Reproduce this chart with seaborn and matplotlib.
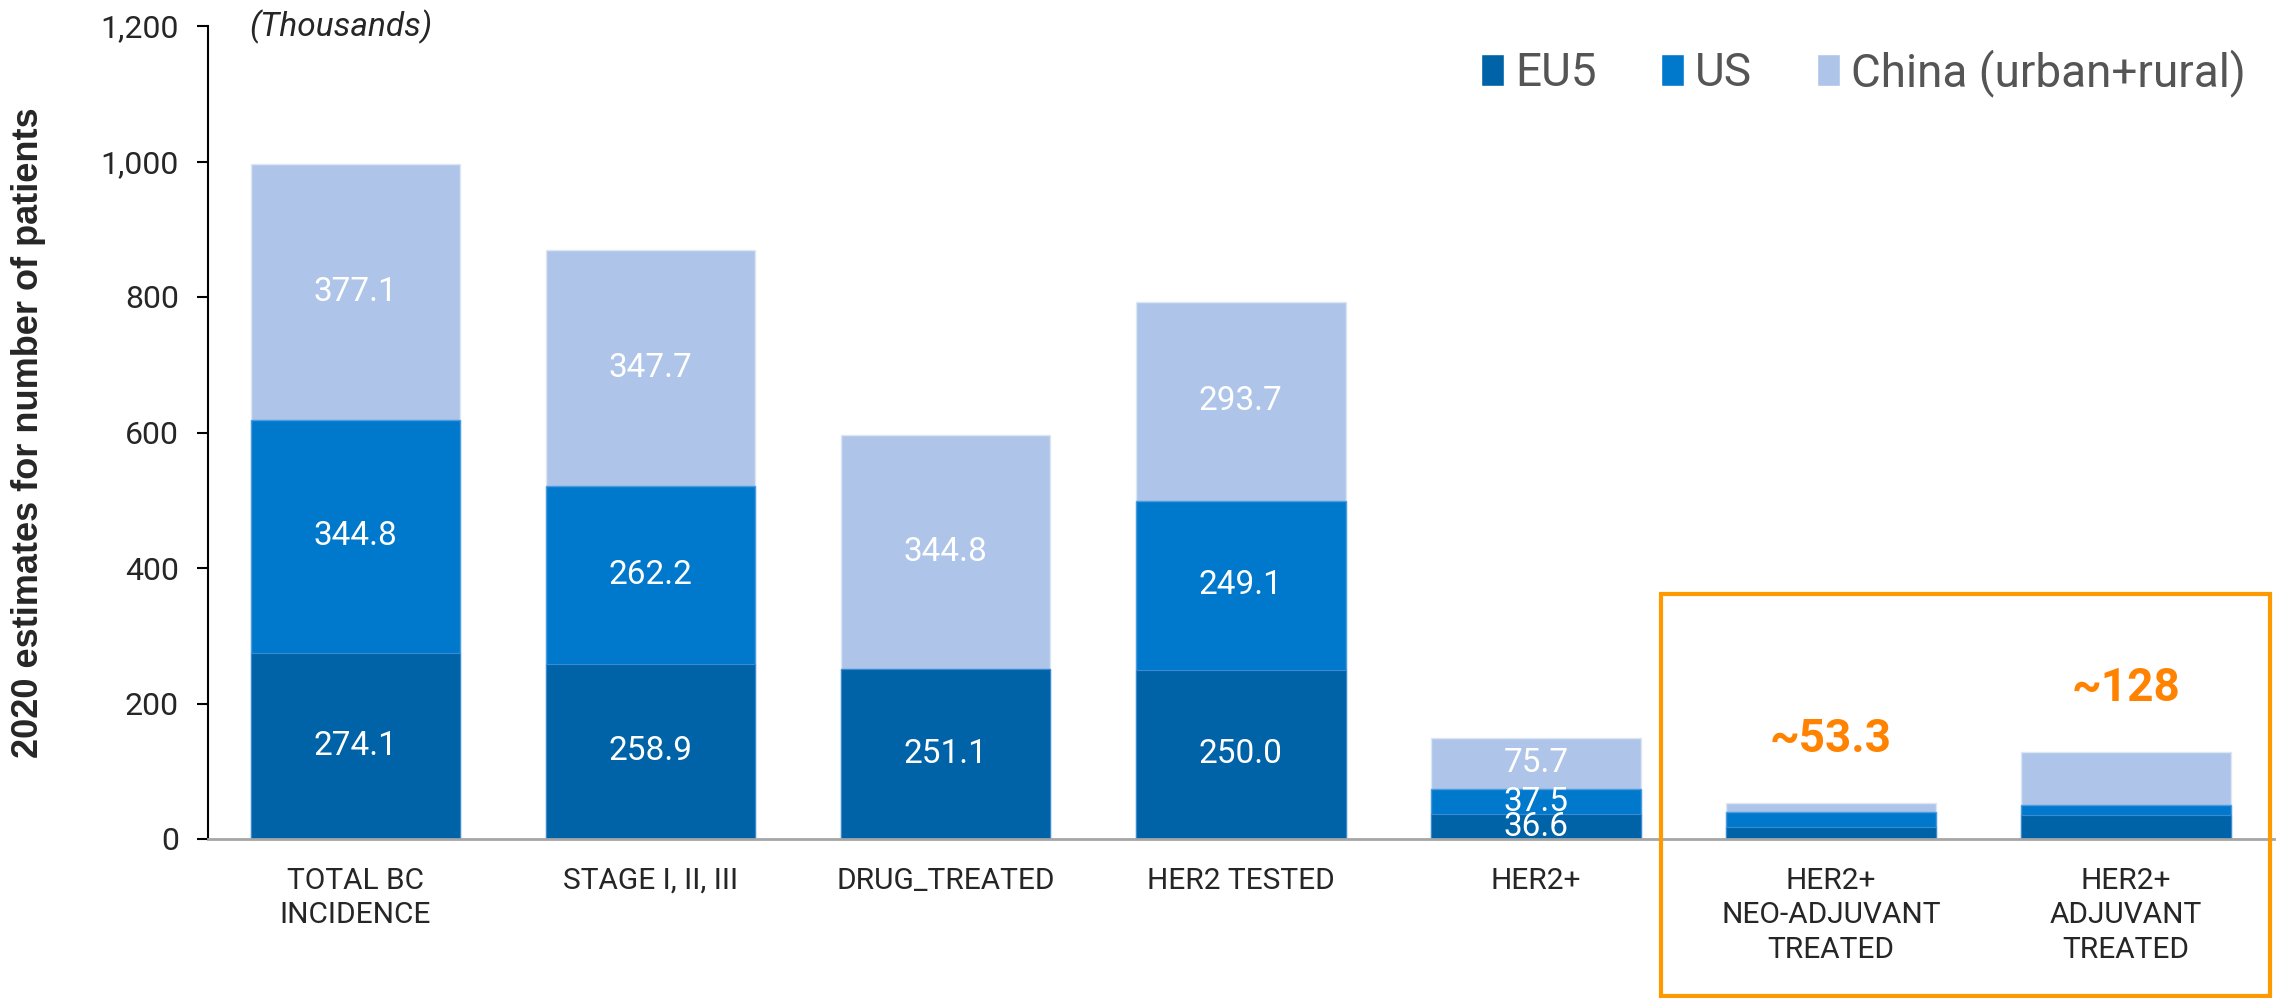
import matplotlib
matplotlib.use("Agg")
import matplotlib.pyplot as plt
import seaborn as sns
import numpy as np
import pandas as pd
from matplotlib.patches import Patch, Rectangle

categories = ["TOTAL BC\nINCIDENCE", "STAGE I, II, III", "DRUG_TREATED", "HER2 TESTED",
              "HER2+", "HER2+\nNEO-ADJUVANT\nTREATED", "HER2+\nADJUVANT\nTREATED"]
eu5 = [274.1, 258.9, 251.1, 250.0, 36.6, 17.7, 35.5]
us = [344.8, 262.2, 0.0, 249.1, 37.5, 22.2, 15.3]
china = [377.1, 347.7, 344.8, 293.7, 75.7, 13.4, 77.2]
show_labels = [True, True, True, True, True, False, False]
callouts = {5: "~53.3", 6: "~128"}
series_names = ["EU5", "US", "China (urban+rural)"]
yticks = [0, 200, 400, 600, 800, 1000, 1200]

c_eu5 = "#0063A8"
c_us = "#0078CC"
c_cn = "#AEC5E9"
orange_txt = "#FF8200"
orange_box = "#FF9900"

sns.set_style("white")
plt.rcParams["font.family"] = ["Roboto", "DejaVu Sans"]

fig = plt.figure(figsize=(22.85, 9.98), dpi=100)
ax = fig.add_axes([208 / 2285, 1 - 839 / 998, (2273.5 - 208) / 2285, (839 - 26) / 998])

eu5_a = np.array(eu5)
us_a = np.array(us)
cn_a = np.array(china)
total = eu5_a + us_a + cn_a
lvl2 = eu5_a + us_a

df = pd.DataFrame({"cat": categories, "total": total, "lvl2": lvl2, "eu5": eu5_a})
bw = 0.71
sns.barplot(data=df, x="cat", y="total", order=categories, color=c_cn, saturation=1,
            width=bw, edgecolor="#DCE6F4", linewidth=1, ax=ax)
sns.barplot(data=df, x="cat", y="lvl2", order=categories, color=c_us, saturation=1,
            width=bw, edgecolor="#4A9BE0", linewidth=1, ax=ax)
sns.barplot(data=df, x="cat", y="eu5", order=categories, color=c_eu5, saturation=1,
            width=bw, edgecolor="#3D8AD0", linewidth=0.8, ax=ax)

for i in range(len(categories)):
    if not show_labels[i]:
        continue
    segs = [(0, eu5[i]), (eu5[i], us[i]), (eu5[i] + us[i], china[i])]
    for b, v in segs:
        if v <= 0:
            continue
        ax.text(i, b + v / 2, f"{v:.1f}", ha="center", va="center", color="white",
                fontsize=24, fontweight="normal")

for i, t in callouts.items():
    ax.text(i, total[i] + 95, t, ha="center", va="center", color=orange_txt,
            fontsize=33, fontweight="bold")

ax.set_xlim(-0.5, 6.5)
ax.set_ylim(0, 1200)
ax.set_yticks(yticks)
ax.set_yticklabels([f"{v:,}" for v in yticks])
ax.set_xlabel("")
ax.set_ylabel("2020 estimates for number of patients", fontsize=26, fontweight="bold",
              family=["Liberation Sans", "DejaVu Sans"])
ax.yaxis.set_label_coords((46 - 208) / (2273.5 - 208), 0.5)

ax.tick_params(axis="y", which="major", direction="out", length=8, width=1.5, pad=13,
               labelsize=23, color="black", left=True)
ax.tick_params(axis="x", length=0, pad=20, labelsize=21.5)
for lab in ax.get_xticklabels():
    lab.set_linespacing(1.3)

for s in ["top", "right"]:
    ax.spines[s].set_visible(False)
ax.spines["left"].set_color("black")
ax.spines["left"].set_linewidth(1.5)
ax.spines["bottom"].set_color("#A6A6A6")
ax.spines["bottom"].set_linewidth(2)

fig.text(249 / 2285, 1 - 27 / 998, "(Thousands)", ha="left", va="center", fontsize=24,
         style="italic")

handles = [Patch(facecolor=c_eu5), Patch(facecolor=c_us), Patch(facecolor=c_cn)]
leg = ax.legend(handles, series_names, loc="center right",
                bbox_to_anchor=(2287 / 2285, 1 - 73 / 998), bbox_transform=fig.transFigure,
                ncol=3, frameon=False, fontsize=33, handlelength=0.5, handleheight=0.7,
                handletextpad=0.25, columnspacing=1.4, labelcolor="#555555")

rect = Rectangle((1661 / 2285, 1 - 996 / 998), (2270 - 1661) / 2285, (996 - 594) / 998,
                 transform=fig.transFigure, fill=False, edgecolor=orange_box, linewidth=3,
                 zorder=10)
fig.add_artist(rect)

fig.savefig("out.png", dpi=100)
